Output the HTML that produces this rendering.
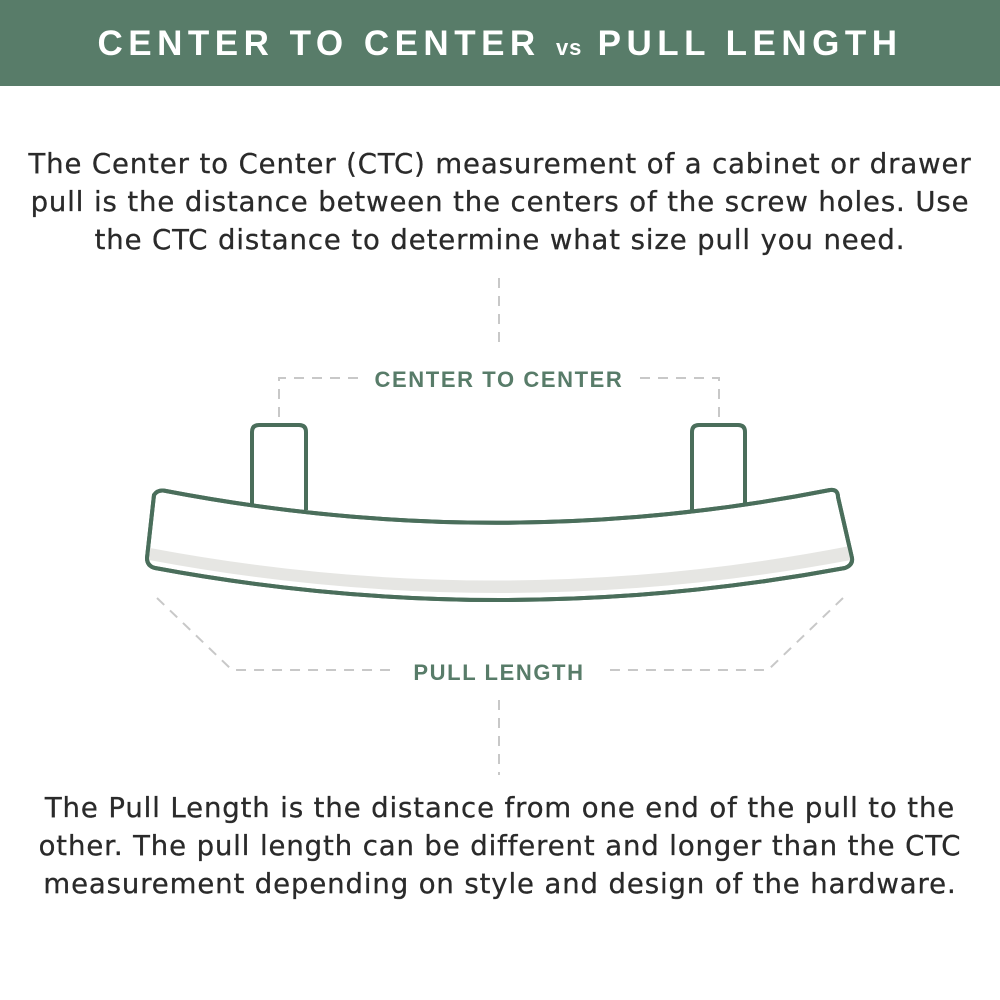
<!DOCTYPE html>
<html><head><meta charset="utf-8"><style>
body{margin:0;width:1000px;height:1000px;background:#fff;overflow:hidden;font-family:"Liberation Sans",sans-serif;}
.hdr{position:absolute;left:0;top:0;width:1000px;height:86px;background:#587c69;color:#fff;font-weight:bold;font-size:35px;letter-spacing:5.5px;text-align:center;line-height:88px;}
.hdr small{font-size:22px;letter-spacing:1px;}
.p{position:absolute;left:-20px;width:1040px;text-align:center;font-family:"DejaVu Sans",sans-serif;font-size:27.5px;line-height:38px;letter-spacing:0.9px;color:#2a2a2a;-webkit-text-stroke:0.3px #2a2a2a;}
</style></head><body>
<div class="hdr">CENTER TO CENTER <small>vs</small> PULL LENGTH</div>
<div class="p" style="top:145px">The Center to Center (CTC) measurement of a cabinet or drawer<br>pull is the distance between the centers of the screw holes. Use<br>the CTC distance to determine what size pull you need.</div>
<svg style="position:absolute;left:0;top:0" width="1000" height="1000">
<g fill="none" stroke="#c8c8c8" stroke-width="2" stroke-dasharray="10,8">
<line x1="499" y1="278" x2="499" y2="345"/>
<polyline points="358,378 279,378 279,450"/>
<polyline points="640,378 719,378 719,450"/>
<polyline points="157,598 232,670 390,670"/>
<polyline points="843,598 768,670 610,670"/>
<line x1="499" y1="700" x2="499" y2="775"/>
</g>
<g font-family="Liberation Sans,sans-serif" font-weight="bold" font-size="22" fill="#587c69" text-anchor="middle">
<text x="499" y="387" letter-spacing="1.6">CENTER TO CENTER</text>
<text x="499" y="680" letter-spacing="1.6">PULL LENGTH</text>
</g>
<g stroke="#4a6e5b" stroke-width="4" fill="#fff">
<path d="M252,505 L252,432 Q252,425 259,425 L299,425 Q306,425 306,432 L306,510"/>
<path d="M692,510 L692,432 Q692,425 699,425 L738,425 Q745,425 745,432 L745,505"/>
</g>
<path d="M154,495 Q158,489 166,491 Q500,555 830,490 Q838,489 838,497 L852,558 Q853,565 845,568 Q500,632 155,568 Q147,566 147,558 Z" fill="#fff" stroke="#4a6e5b" stroke-width="4"/>
<path d="M150,548 Q500,614 850,546 L851,560 Q500,626 149,560 Z" fill="#e6e6e3"/>
<path d="M154,495 Q158,489 166,491 Q500,555 830,490 Q838,489 838,497 L852,558 Q853,565 845,568 Q500,632 155,568 Q147,566 147,558 Z" fill="none" stroke="#4a6e5b" stroke-width="4"/>
</svg>
<div class="p" style="top:789px">The Pull Length is the distance from one end of the pull to the<br>other. The pull length can be different and longer than the CTC<br>measurement depending on style and design of the hardware.</div>
</body></html>
